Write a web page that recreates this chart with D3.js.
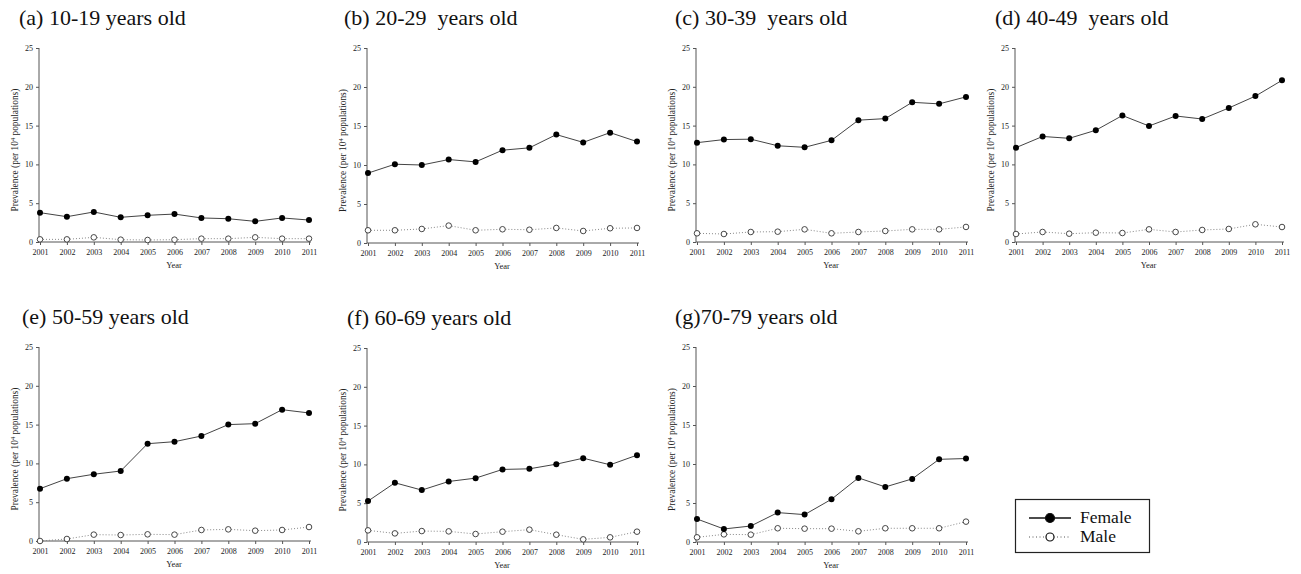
<!DOCTYPE html>
<html>
<head>
<meta charset="utf-8">
<script src="https://cdn.jsdelivr.net/npm/d3@7"></script>
<style>
  html, body { margin: 0; padding: 0; background: #fff; }
  svg { display: block; }
  svg text { font-family: "Liberation Serif", "Times New Roman", "DejaVu Serif", serif; }
</style>
</head>
<body>
<svg id="chart" width="1301" height="574"></svg>
<script>
// ---- data ----
const years = [2001, 2002, 2003, 2004, 2005, 2006, 2007, 2008, 2009, 2010, 2011];
const panelTitles = [
  "(a) 10-19 years old",
  "(b) 20-29  years old",
  "(c) 30-39  years old",
  "(d) 40-49  years old",
  "(e) 50-59 years old",
  "(f) 60-69 years old",
  "(g)70-79 years old"
];
const female10 = [3.78, 3.26, 3.87, 3.18, 3.44, 3.6, 3.1, 3.0, 2.66, 3.1, 2.83];
const male10   = [0.34, 0.34, 0.6, 0.3, 0.26, 0.3, 0.43, 0.43, 0.6, 0.43, 0.43];
const female20 = [8.96, 10.1, 10.0, 10.7, 10.4, 11.9, 12.2, 13.9, 12.9, 14.15, 13.0];
const male20   = [1.63, 1.63, 1.8, 2.23, 1.63, 1.76, 1.7, 1.93, 1.54, 1.89, 1.93];
const female30 = [12.8, 13.2, 13.25, 12.4, 12.2, 13.1, 15.7, 15.9, 18.0, 17.8, 18.7];
const male30   = [1.12, 1.03, 1.29, 1.33, 1.63, 1.12, 1.29, 1.42, 1.63, 1.63, 1.94];
const female40 = [12.16, 13.6, 13.36, 14.4, 16.3, 14.95, 16.24, 15.85, 17.27, 18.8, 20.83];
const male40   = [1.03, 1.29, 1.07, 1.2, 1.16, 1.63, 1.29, 1.55, 1.68, 2.28, 1.93];
const female50 = [6.74, 8.03, 8.6, 9.02, 12.54, 12.8, 13.53, 15.0, 15.12, 16.92, 16.5];
const male50   = [0.0, 0.26, 0.82, 0.77, 0.86, 0.82, 1.42, 1.5, 1.33, 1.42, 1.8];
const female60 = [5.27, 7.63, 6.69, 7.8, 8.23, 9.35, 9.43, 10.03, 10.8, 9.95, 11.19];
const male60   = [1.5, 1.11, 1.41, 1.37, 1.03, 1.33, 1.59, 0.94, 0.34, 0.6, 1.33];
const female70 = [2.95, 1.67, 2.05, 3.77, 3.51, 5.48, 8.22, 7.06, 8.09, 10.6, 10.7];
const male70   = [0.6, 0.98, 0.94, 1.76, 1.71, 1.71, 1.37, 1.76, 1.76, 1.76, 2.61];
const yTicks = [0, 5, 10, 15, 20, 25];
const seriesNames = ["Female", "Male"];

const femaleAll = [female10, female20, female30, female40, female50, female60, female70];
const maleAll = [male10, male20, male30, male40, male50, male60, male70];

// ---- layout (pixel boxes for each panel) ----
const boxes = [
  {l: 39,  r: 309,  t: 48,  b: 242, tx: 19},
  {l: 367, r: 637,  t: 48,  b: 243, tx: 344},
  {l: 696, r: 966,  t: 48,  b: 242, tx: 675},
  {l: 1015, r: 1282, t: 48, b: 242, tx: 995},
  {l: 39,  r: 309,  t: 347, b: 541, tx: 22},
  {l: 367, r: 637,  t: 348, b: 542, tx: 347},
  {l: 696, r: 966,  t: 347, b: 542, tx: 675}
];

const svg = d3.select("#chart");
const axisColor = "#555";
const lineColor = "#444";

boxes.forEach((bx, i) => {
  const g = svg.append("g");
  const x = d3.scaleLinear().domain([2001, 2011]).range([bx.l + 1, bx.r]);
  const y = d3.scaleLinear().domain([0, 25]).range([bx.b, bx.t]);

  // title
  g.append("text")
    .attr("x", bx.tx)
    .attr("y", bx.t - 23)
    .attr("font-size", 22)
    .attr("fill", "#111")
    .style("white-space", "pre")
    .text(panelTitles[i]);

  // y axis
  const yAxis = d3.axisLeft(y).tickValues(yTicks).tickSize(3).tickPadding(3);
  const ya = g.append("g").attr("transform", `translate(${bx.l},0)`).call(yAxis);
  // x axis
  const xAxis = d3.axisBottom(x).tickValues(years).tickFormat(d3.format("d")).tickSize(3).tickPadding(4);
  const xa = g.append("g").attr("transform", `translate(0,${bx.b})`).call(xAxis);
  [ya, xa].forEach(a => {
    a.attr("font-family", null);
    a.select(".domain").attr("stroke", axisColor).attr("stroke-width", 1);
    a.selectAll(".tick line").attr("stroke", axisColor);
    a.selectAll("text").attr("font-size", 8).attr("fill", "#222");
  });
  xa.select(".domain").attr("d", `M${bx.l},0H${bx.r + 2}`);
  ya.select(".domain").attr("d", `M0,${y(25)}V${bx.b}`);

  // axis titles
  g.append("text")
    .attr("x", (bx.l + bx.r) / 2)
    .attr("y", bx.b + 26)
    .attr("text-anchor", "middle")
    .attr("font-size", 8.5)
    .attr("fill", "#222")
    .text("Year");

  const yl = g.append("text")
    .attr("transform", `translate(${bx.l - 21},${(bx.t + bx.b) / 2 + 5}) rotate(-90)`)
    .attr("text-anchor", "middle")
    .attr("font-size", 9.4)
    .attr("fill", "#222");
  yl.append("tspan").text("Prevalence (per 10");
  yl.append("tspan").attr("dy", -3.5).attr("font-size", 6.5).text("4");
  yl.append("tspan").attr("dy", 3.5).text(" populations)");

  const line = d3.line().x((d, j) => x(years[j])).y(d => y(d));

  // male (dotted)
  g.append("path")
    .datum(maleAll[i])
    .attr("d", line)
    .attr("fill", "none")
    .attr("stroke", "#888")
    .attr("stroke-width", 1)
    .attr("stroke-dasharray", "1,2");
  g.selectAll(".m").data(maleAll[i]).join("circle")
    .attr("cx", (d, j) => x(years[j]))
    .attr("cy", d => y(d))
    .attr("r", 2.8)
    .attr("fill", "#fff")
    .attr("stroke", "#333")
    .attr("stroke-width", 0.9);

  // female (solid)
  g.append("path")
    .datum(femaleAll[i])
    .attr("d", line)
    .attr("fill", "none")
    .attr("stroke", lineColor)
    .attr("stroke-width", 1);
  g.selectAll(".f").data(femaleAll[i]).join("circle")
    .attr("cx", (d, j) => x(years[j]))
    .attr("cy", d => y(d))
    .attr("r", 3)
    .attr("fill", "#000");
});

// ---- legend ----
const lg = svg.append("g");
lg.append("rect")
  .attr("x", 1015.5).attr("y", 499.5)
  .attr("width", 134).attr("height", 53)
  .attr("fill", "#fff").attr("stroke", "#222").attr("stroke-width", 1.2);
const legendRows = [
  {name: seriesNames[0], y: 518, dash: null, stroke: "#111", fill: "#000", r: 4.5},
  {name: seriesNames[1], y: 537, dash: "1,2.5", stroke: "#555", fill: "#fff", r: 4}
];
legendRows.forEach(row => {
  lg.append("line")
    .attr("x1", 1029).attr("x2", 1071)
    .attr("y1", row.y).attr("y2", row.y)
    .attr("stroke", row.stroke).attr("stroke-width", row.dash ? 1 : 1.5)
    .attr("stroke-dasharray", row.dash);
  lg.append("circle")
    .attr("cx", 1050).attr("cy", row.y).attr("r", row.r)
    .attr("fill", row.fill).attr("stroke", "#111").attr("stroke-width", 1.2);
  lg.append("text")
    .attr("x", 1080).attr("y", row.y + 4.5)
    .attr("font-size", 17.5).attr("fill", "#111")
    .text(row.name);
});
</script>
</body>
</html>
